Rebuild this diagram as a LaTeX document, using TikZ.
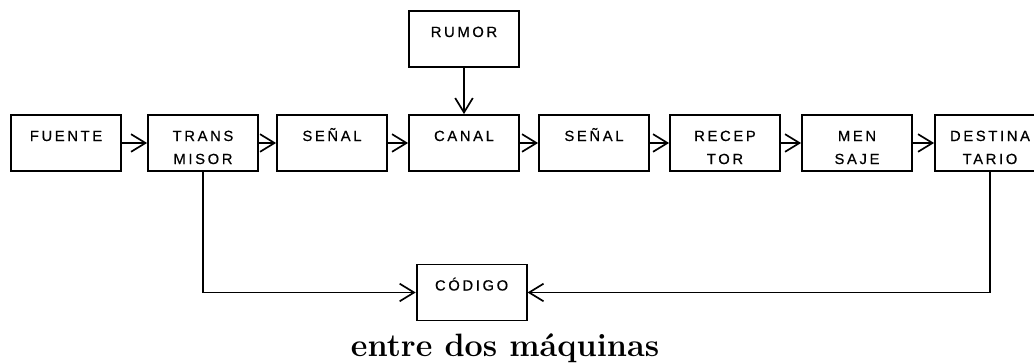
\documentclass[tikz,border=0pt]{standalone}
\usepackage{fontspec}
\newfontfamily\cajafont{Liberation Sans}[LetterSpace=18,FakeBold=0.6]
\usetikzlibrary{arrows.meta,positioning,calc}

\begin{document}
\begin{tikzpicture}[
    % Estilos para los bloques
    caja/.style={rectangle, draw=black, line width=1.3pt, inner sep=0pt,
        text width=2.75cm, align=center, text height=18.5pt, text depth=21.33pt,
        font=\cajafont\fontsize{10.5}{16.4}\selectfont},
    % Estilos para las conexiones
    flecha/.style={-{Straight Barb[length=3.6mm,width=4.4mm]}, line width=1.2pt},
    % Estilo para el texto
    titulo/.style={font=\fontsize{23}{27}\selectfont\bfseries}
]
\useasboundingbox (0,0) rectangle (25.85,9.1);

% === FILA PRINCIPAL ===
\node[caja] (fuente) at (1.65,5.525) {FUENTE};
\node[caja] (transmisor) at (5.075,5.525) {TRANS\\MISOR};
\node[caja] (senal1) at (8.3,5.525) {SEÑAL};
\node[caja] (canal) at (11.6,5.525) {CANAL};
\node[caja] (senal2) at (14.85,5.525) {SEÑAL};
\node[caja] (receptor) at (18.125,5.525) {RECEP\\TOR};
\node[caja] (mensaje) at (21.425,5.525) {MEN\\SAJE};
\node[caja] (destinatario) at (24.75,5.525) {DESTINA\\TARIO};

% === RUMOR Y CODIGO ===
\node[caja] (rumor) at (11.6,8.125) {RUMOR};
\node[caja] (codigo) at (11.79,1.7875) {CÓDIGO};

% === TITULO ===
\node[titulo, anchor=base west] (titulo) at (8.65,0.19) {entre dos máquinas};

% === CONEXIONES ===
\draw[flecha] (fuente) -- (transmisor);
\draw[flecha] (transmisor) -- (senal1);
\draw[flecha] (senal1) -- (canal);
\draw[flecha] (canal) -- (senal2);
\draw[flecha] (senal2) -- (receptor);
\draw[flecha] (receptor) -- (mensaje);
\draw[flecha] (mensaje) -- (destinatario);

% Rumor -> Canal
\draw[flecha] (rumor) -- (canal);

% Transmisor y Destinatario -> Codigo
\draw[flecha] (transmisor.south) |- (codigo);
\draw[flecha] (destinatario.south) |- (codigo);

\end{tikzpicture}
\end{document}
